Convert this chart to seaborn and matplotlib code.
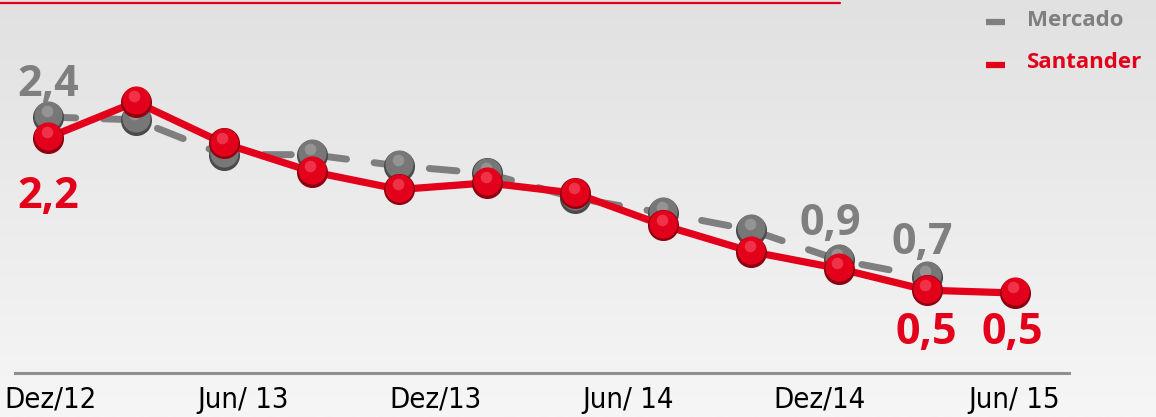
import numpy as np
import pandas as pd
import matplotlib
matplotlib.use("Agg")
import matplotlib.pyplot as plt
import matplotlib.transforms as mtransforms
from matplotlib.lines import Line2D
import seaborn as sns

# Data (12 periods, Mercado ends one earlier)
periods = list(range(12))
mercado = [2.40, 2.37, 2.00, 2.00, 1.88, 1.80, 1.54, 1.38, 1.20, 0.88, 0.70]
santander = [2.18, 2.56, 2.12, 1.82, 1.63, 1.70, 1.59, 1.25, 0.97, 0.79, 0.56, 0.53]
tick_labels = ["Dez/12", "Jun/ 13", "Dez/13", "Jun/ 14", "Dez/14", "Jun/ 15"]
tick_pos = [0.03, 2.22, 4.41, 6.60, 8.78, 10.99]

RED = "#e2001a"
GRAY = "#7f7f7f"

sns.set_theme(style="white")
plt.rcParams["font.family"] = ["Open Sans", "DejaVu Sans"]

fig = plt.figure(figsize=(11.56, 4.17), dpi=100)

# background gradient
bg = fig.add_axes([0, 0, 1, 1])
grad = np.linspace(0, 1, 256).reshape(-1, 1)
bg.imshow(grad, aspect="auto", cmap=matplotlib.colors.LinearSegmentedColormap.from_list(
    "bg", ["#e1e1e1", "#f6f6f6"]), extent=[0, 1, 0, 1], origin="upper")
bg.set_axis_off()

# thin red rule at the top
fig.add_artist(Line2D([0, 840 / 1156], [1 - 3 / 417, 1 - 3 / 417], color=RED, lw=1.6))

ax = fig.add_axes([15 / 1156, 44 / 417, (1069 - 15) / 1156, 373 / 417])
ax.patch.set_alpha(0)
ax.set_xlim(-0.375, 11.62)
ax.set_ylim(-0.32, 3.643)

df_m = pd.DataFrame({"x": periods[:len(mercado)], "y": mercado})
df_s = pd.DataFrame({"x": periods, "y": santander})

sns.lineplot(data=df_m, x="x", y="y", ax=ax, color=GRAY, lw=5,
             dashes=False, zorder=2)
ax.lines[-1].set_dashes([4, 4])
ax.lines[-1].set_dash_capstyle("round")


def spheres(df, dark, base, light, z):
    s = 500
    ax.scatter(df["x"], df["y"], s=s, color=dark, zorder=z, linewidths=0)
    up = mtransforms.offset_copy(ax.transData, fig=fig, x=0, y=1.2, units="points")
    ax.scatter(df["x"], df["y"], s=s * 0.82, color=base, zorder=z + 0.1,
               linewidths=0, transform=up)
    hi = mtransforms.offset_copy(ax.transData, fig=fig, x=-1.0, y=4.0, units="points")
    ax.scatter(df["x"], df["y"], s=s * 0.14, color=light, zorder=z + 0.2,
               linewidths=0, alpha=0.45, transform=hi)


spheres(df_m, "#4a4a4a", "#777777", "#b8b8b8", 3)

sns.lineplot(data=df_s, x="x", y="y", ax=ax, color=RED, lw=5.2, zorder=4)
spheres(df_s, "#8c0010", "#e2001a", "#ff7080", 5)

# value labels
lab = dict(fontsize=31, fontweight="bold", ha="center", va="center")
ax.text(0.0, mercado[0] + 0.34, "2,4", color=GRAY, **lab)
ax.text(0.0, santander[0] - 0.63, "2,2", color=RED, **lab)
ax.text(8.9, 1.27, "0,9", color=GRAY, **lab)
ax.text(9.95, 1.07, "0,7", color=GRAY, **lab)
ax.text(10.0, 0.11, "0,5", color=RED, **lab)
ax.text(10.98, 0.11, "0,5", color=RED, **lab)

# legend drawn as text + short bars
fig.add_artist(Line2D([986 / 1156, 1005 / 1156], [1 - 22 / 417] * 2, color=GRAY,
                      lw=4.5, solid_capstyle="butt"))
fig.add_artist(Line2D([986 / 1156, 1005 / 1156], [1 - 65 / 417] * 2, color=RED,
                      lw=4.5, solid_capstyle="butt"))
fig.text(1027 / 1156, 1 - 21 / 417, "Mercado", color=GRAY, fontsize=16,
         fontweight="bold", va="center", ha="left")
fig.text(1027 / 1156, 1 - 63 / 417, "Santander", color=RED, fontsize=16,
         fontweight="bold", va="center", ha="left")

# axes styling
for side in ["top", "right", "left"]:
    ax.spines[side].set_visible(False)
ax.spines["bottom"].set_color("#8f8f8f")
ax.spines["bottom"].set_linewidth(2.2)
ax.set_yticks([])
ax.set_xticks(tick_pos)
ax.set_xticklabels(tick_labels, fontsize=21, family=["DejaVu Sans"],
                   fontstretch="condensed", color="black")
ax.tick_params(axis="x", length=0, pad=9)
ax.set_xlabel("")
ax.set_ylabel("")

fig.savefig("out.png", dpi=100)
